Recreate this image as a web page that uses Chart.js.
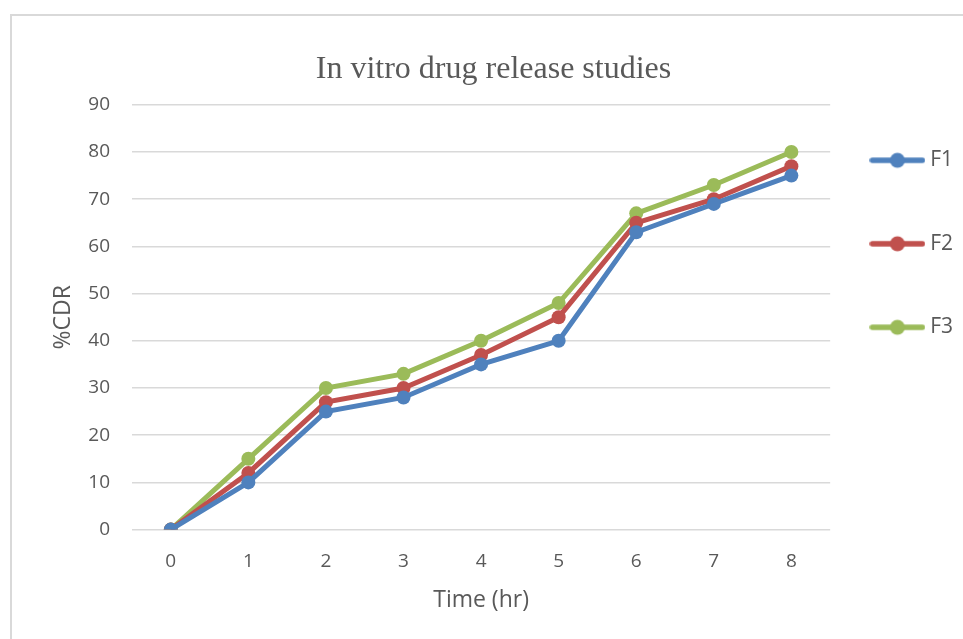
<!DOCTYPE html>
<html>
<head>
<meta charset="utf-8">
<script src="https://cdn.jsdelivr.net/npm/chart.js@4"></script>
<style>
  html, body { margin: 0; padding: 0; background: #fff; }
  body { width: 963px; height: 639px; position: relative; overflow: hidden; }
  .frame { position: absolute; left: 10px; top: 14px; width: 970px; height: 650px;
           border-left: 2px solid #d9d9d9; border-top: 2px solid #d9d9d9; box-sizing: border-box; }
  #chart { position: absolute; left: 0; top: 0; }
</style>
</head>
<body>
<div class="frame"></div>
<canvas id="chart" width="963" height="639"></canvas>
<script>
const timeLabels = ['0', '1', '2', '3', '4', '5', '6', '7', '8']
const f1Values = [0, 10, 25, 28, 35, 40, 63, 69, 75]
const f2Values = [0, 12, 27, 30, 37, 45, 65, 70, 77]
const f3Values = [0, 15, 30, 33, 40, 48, 67, 73, 80]

const textColor = '#595959'
const sansFont = "'Open Sans', sans-serif"

// legend marker: a short line with a dot in the middle
const legendMarker = (color) => {
  const c = document.createElement('canvas')
  c.width = 56
  c.height = 18
  const ctx = c.getContext('2d')
  ctx.strokeStyle = color
  ctx.lineWidth = 5.5
  ctx.lineCap = 'round'
  ctx.beginPath()
  ctx.moveTo(3, 9)
  ctx.lineTo(53, 9)
  ctx.stroke()
  ctx.fillStyle = color
  ctx.beginPath()
  ctx.arc(28, 9, 7.5, 0, Math.PI * 2)
  ctx.fill()
  return c
}

const series = (label, values, color) => ({
  label: label,
  data: values,
  borderColor: color,
  backgroundColor: color,
  borderWidth: 5,
  pointRadius: 7,
  pointHoverRadius: 7,
  pointBorderWidth: 0,
  tension: 0
})

const data = {
  labels: timeLabels,
  datasets: [
    series('F1', f1Values, '#4F81BD'),
    series('F2', f2Values, '#C0504D'),
    series('F3', f3Values, '#9BBB59')
  ]
}

const config = {
  type: 'line',
  data: data,
  options: {
    responsive: false,
    animation: false,
    maintainAspectRatio: false,
    layout: { padding: { top: 51, left: 24, right: 0, bottom: 25 } },
    plugins: {
      title: {
        display: true,
        text: 'In vitro drug release studies',
        color: textColor,
        font: { family: "'Liberation Serif', 'Times New Roman', serif", size: 32, weight: 'normal', lineHeight: 1.15 },
        padding: { top: 0, bottom: 17 }
      },
      legend: {
        position: 'right',
        align: 'start',
        fullSize: false,
        labels: {
          usePointStyle: true,
          pointStyleWidth: 44.5,
          color: textColor,
          // the px line height sets the step between the legend rows
          font: { family: sansFont, size: 21, lineHeight: '38.5px' },
          padding: 45,
          generateLabels: (chart) => chart.data.datasets.map((ds, i) => ({
            text: [ds.label],
            fontColor: textColor,
            pointStyle: legendMarker(ds.borderColor),
            datasetIndex: i,
            lineWidth: 0,
            hidden: false
          }))
        }
      },
      tooltip: { enabled: false }
    },
    scales: {
      x: {
        offset: true,
        grid: { display: false, drawTicks: false },
        border: { display: false },
        ticks: { color: textColor, font: { family: sansFont, size: 19 }, padding: 21 },
        title: {
          display: true,
          text: 'Time (hr)',
          color: textColor,
          font: { family: sansFont, size: 23 },
          padding: { top: -8, bottom: 0 }
        }
      },
      y: {
        min: 0,
        max: 90,
        ticks: { stepSize: 10, color: textColor, font: { family: sansFont, size: 19 }, padding: 22 },
        grid: { color: '#d9d9d9', lineWidth: 1.5, drawTicks: false },
        border: { display: false },
        title: {
          display: true,
          text: '%CDR',
          color: textColor,
          font: { family: sansFont, size: 23 },
          padding: { top: 26, bottom: 14 }
        },
        afterFit: (scale) => { scale.width = 108 }
      }
    }
  }
}

const myChart = new Chart(document.getElementById('chart'), config)
</script>
</body>
</html>
